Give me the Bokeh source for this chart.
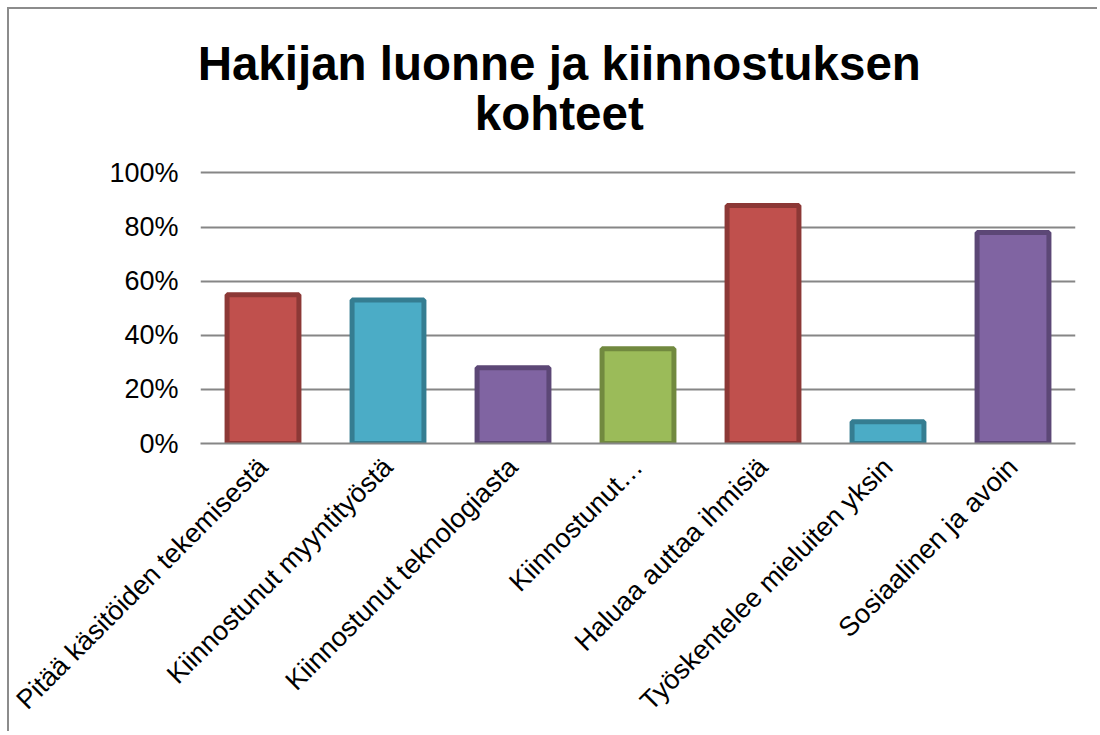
from bokeh.plotting import figure
from bokeh.models import ColumnDataSource, NumeralTickFormatter, FixedTicker, Range1d, Label
from bokeh.embed import file_html
from bokeh.resources import INLINE

categories = [
    "Pitää käsitöiden tekemisestä",
    "Kiinnostunut myyntityöstä",
    "Kiinnostunut teknologiasta",
    "Kiinnostunut…",
    "Haluaa auttaa ihmisiä",
    "Työskentelee mieluiten yksin",
    "Sosiaalinen ja avoin",
]
values = [0.55, 0.53, 0.28, 0.35, 0.88, 0.08, 0.78]
y_ticks = [0, 0.2, 0.4, 0.6, 0.8, 1.0]
title_lines = ["Hakijan luonne ja kiinnostuksen", "kohteet"]

fill_colors = ["#C0504D", "#4BACC6", "#8064A2", "#9BBB59", "#C0504D", "#4BACC6", "#8064A2"]
line_colors = ["#8C3836", "#357D91", "#5C4776", "#71893F", "#8C3836", "#357D91", "#5C4776"]

source = ColumnDataSource(dict(cat=categories, val=values, fill=fill_colors, line=line_colors))

FONT = "Liberation Sans"

# the frame reaches the top of the canvas so the title can sit inside it
p = figure(
    x_range=categories,
    y_range=Range1d(0, 1.604),
    width=1090, height=724,
    output_backend="svg", toolbar_location=None,
    min_border_left=191, min_border_right=24,
    min_border_top=0, min_border_bottom=290,
    styles={"margin-left": "9px", "margin-top": "9px",
            "box-shadow": "-2px -2px 0 0 #8c8c8c",
            "clip-path": "inset(-3px 0px -3px -3px)"},
)
p.outline_line_color = None
p.background_fill_color = "white"
p.border_fill_color = "white"

p.vbar(x="cat", top="val", bottom=0, width=0.575, source=source,
       fill_color="fill", line_color="line", line_width=5)

# grid
p.xgrid.grid_line_color = None
p.ygrid.grid_line_color = "#868686"
p.ygrid.grid_line_width = 2
p.ygrid.ticker = FixedTicker(ticks=y_ticks)

# y axis
p.yaxis.ticker = FixedTicker(ticks=y_ticks)
p.yaxis.formatter = NumeralTickFormatter(format="0%")
p.yaxis.axis_line_color = None
p.yaxis.major_tick_line_color = None
p.yaxis.major_tick_out = 0
p.yaxis.major_tick_in = 0
p.yaxis.minor_tick_line_color = None
p.yaxis.major_label_text_font = FONT
p.yaxis.major_label_text_font_size = "27px"
p.yaxis.major_label_text_color = "black"
p.yaxis.major_label_standoff = 22

# x axis
p.xaxis.axis_line_color = "#868686"
p.xaxis.axis_line_width = 2
p.xaxis.major_tick_line_color = None
p.xaxis.major_tick_out = 0
p.xaxis.major_tick_in = 0
p.xaxis.minor_tick_line_color = None
p.xaxis.major_label_orientation = 0.785398
p.xaxis.major_label_text_font = FONT
p.xaxis.major_label_text_font_size = "27px"
p.xaxis.major_label_text_color = "black"
p.xaxis.major_label_standoff = 19

# title (numeric x on the categorical scale = synthetic coordinate)
p.add_layout(Label(x=2.87, y=1.405, text=title_lines[0],
                   text_align="center", text_baseline="alphabetic", text_font=FONT,
                   text_font_size="47.5px", text_font_style="bold", text_color="black"))
p.add_layout(Label(x=2.87, y=1.218, text=title_lines[1],
                   text_align="center", text_baseline="alphabetic", text_font=FONT,
                   text_font_size="47.5px", text_font_style="bold", text_color="black"))

open("out.html", "w").write(file_html(p, INLINE))
